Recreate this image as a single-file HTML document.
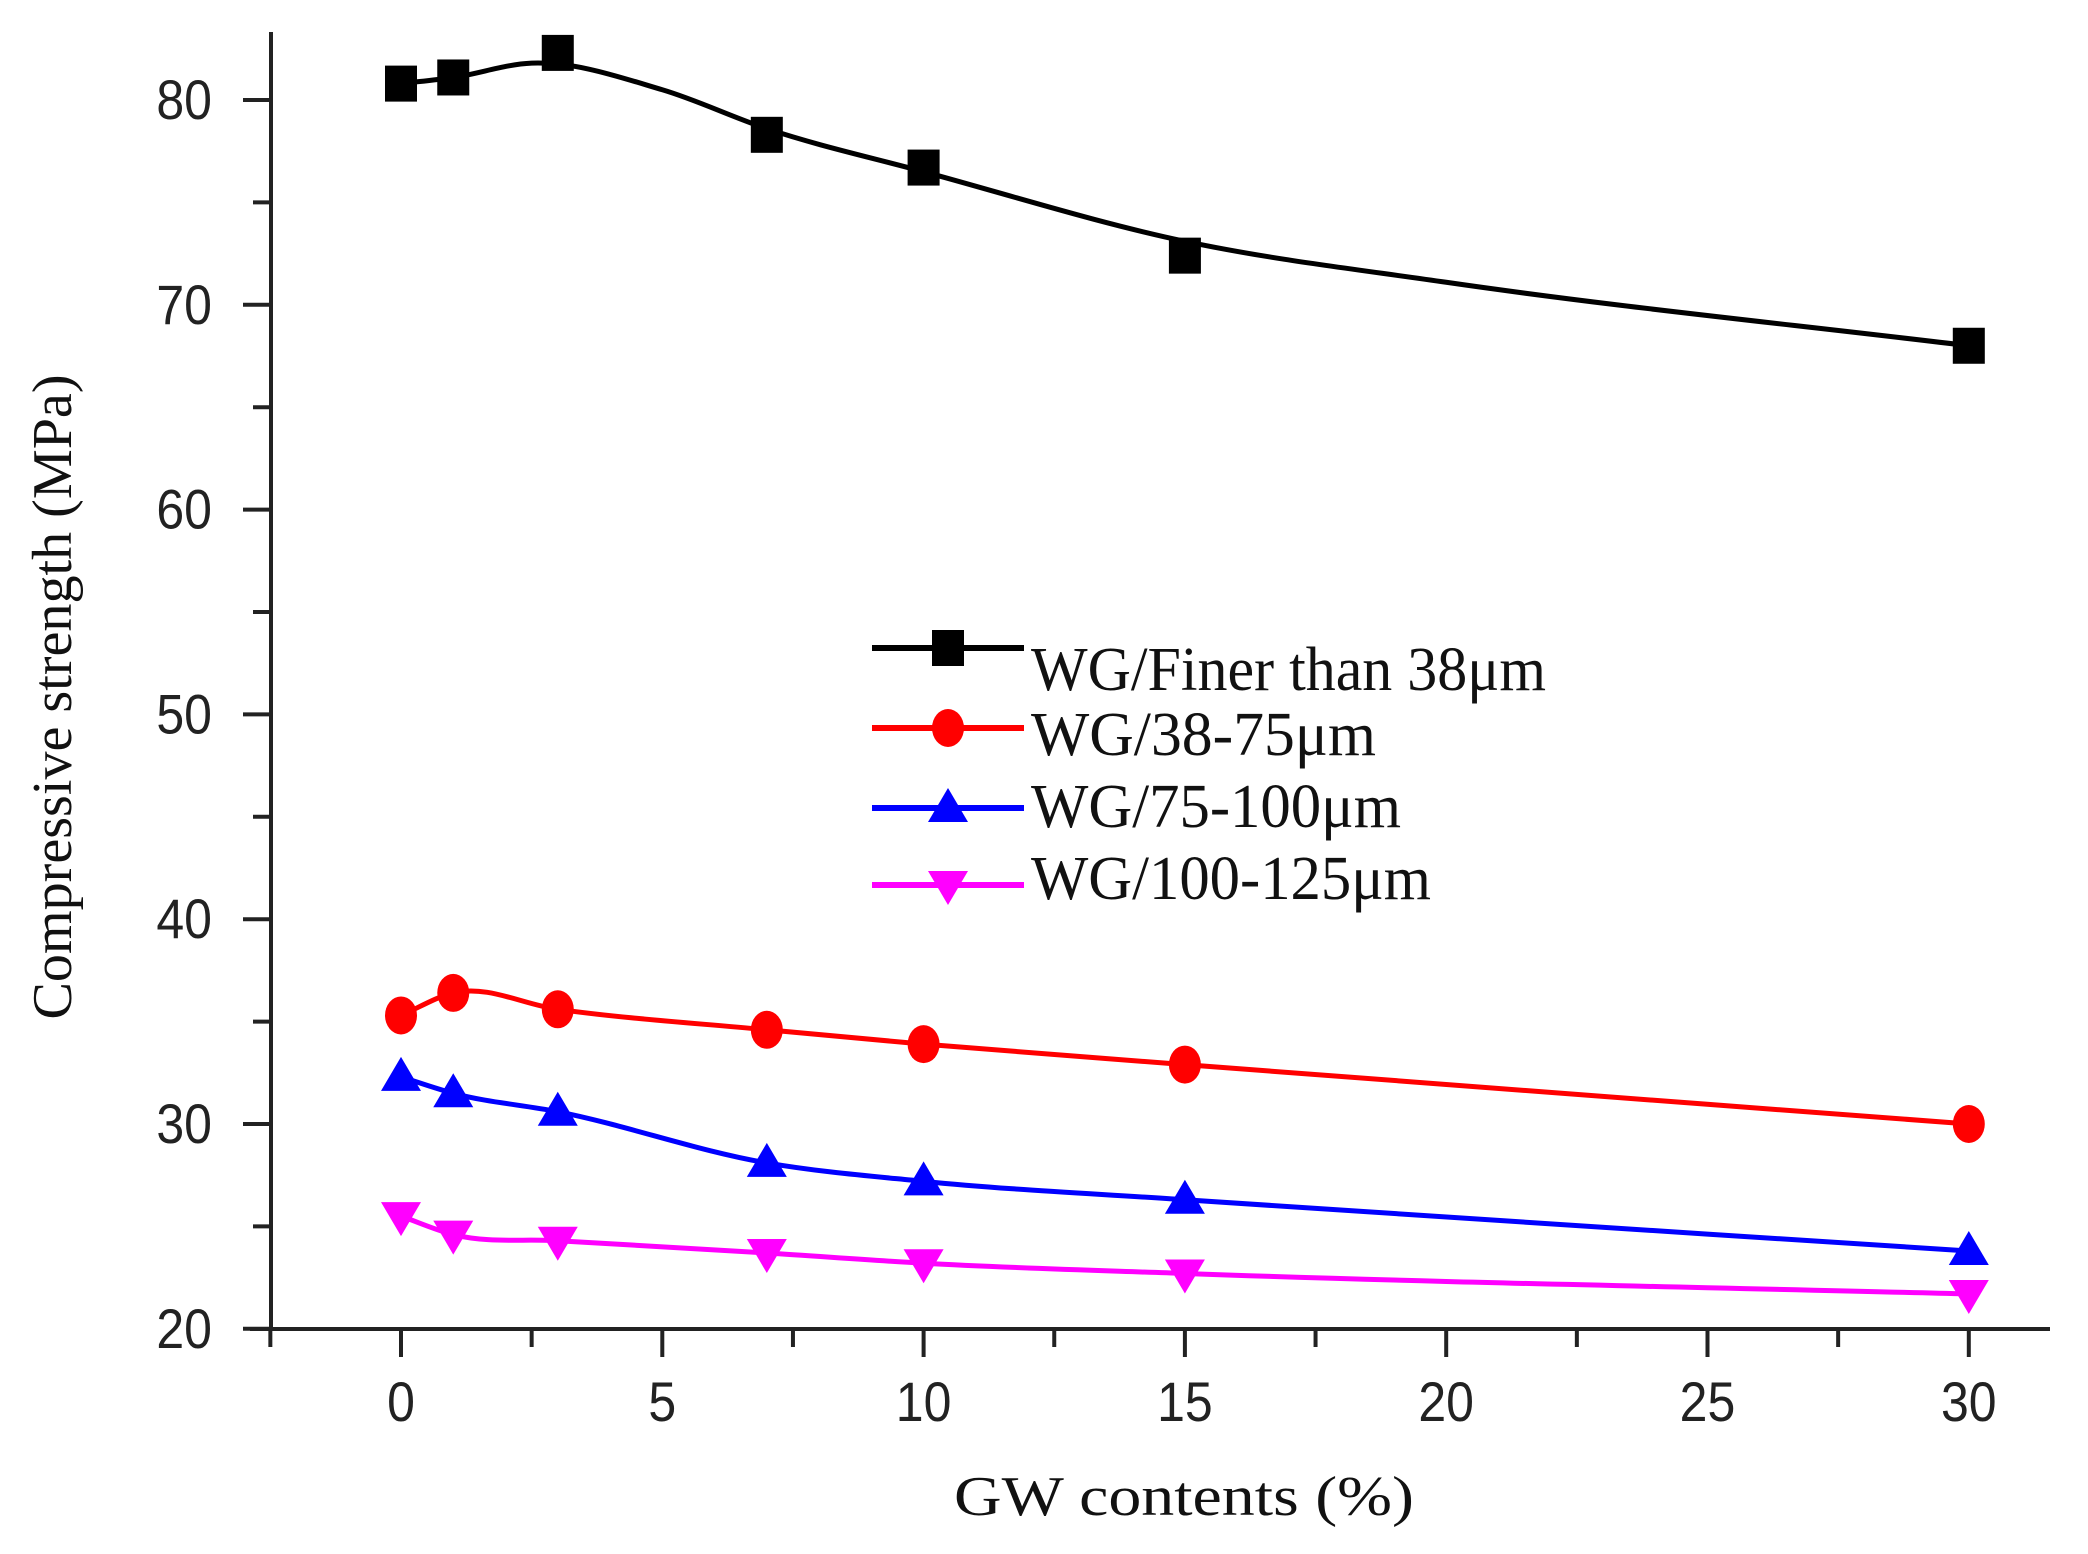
<!DOCTYPE html>
<html><head><meta charset="utf-8"><style>
html,body{margin:0;padding:0;background:#fff;width:2088px;height:1554px;overflow:hidden}
</style></head><body>
<svg id="s" width="2088" height="1554" viewBox="0 0 2088 1554" xmlns="http://www.w3.org/2000/svg">
<rect width="2088" height="1554" fill="#fff"/>
<g id="axes" stroke="#222" stroke-width="4" fill="none">
<line x1="271" y1="32" x2="271" y2="1329"/>
<line x1="250" y1="1329" x2="2050" y2="1329"/>
</g>
<g id="ticks" stroke="#222" stroke-width="4"></g>
<g id="labels" font-family="Liberation Sans, sans-serif" font-size="50" fill="#222"></g>
<g id="series"></g>
<text x="58" y="697" transform="rotate(-90 58 697)" text-anchor="middle" dominant-baseline="middle" font-family="Liberation Serif, serif" font-size="56" textLength="645" lengthAdjust="spacingAndGlyphs" fill="#111">Compressive strength (MPa)</text>
<text x="1184" y="1515" text-anchor="middle" font-family="Liberation Serif, serif" font-size="56" textLength="460" lengthAdjust="spacingAndGlyphs" fill="#111">GW contents (%)</text>
<g font-family="Liberation Serif, serif" font-size="62" fill="#111">
<text x="1031" y="690" textLength="515" lengthAdjust="spacingAndGlyphs">WG/Finer than 38μm</text>
<text x="1031" y="755" textLength="345" lengthAdjust="spacingAndGlyphs">WG/38-75μm</text>
<text x="1031" y="827" textLength="370" lengthAdjust="spacingAndGlyphs">WG/75-100μm</text>
<text x="1031" y="899" textLength="400" lengthAdjust="spacingAndGlyphs">WG/100-125μm</text>
</g>
<g id="legend"></g>
</svg>
<script>
var NS="http://www.w3.org/2000/svg";
function el(t,a,p){var e=document.createElementNS(NS,t);for(var k in a)e.setAttribute(k,a[k]);p.appendChild(e);return e;}
function X(v){return 401+v*52.26;}
function Y(v){return 100+(80-v)*20.48;}
var tk=document.getElementById('ticks'),lb=document.getElementById('labels');
for(var v=20;v<=80;v+=5){var maj=v%10==0;el('line',{x1:maj?243:253,x2:271,y1:Y(v),y2:Y(v)},tk);
 if(maj){var t=el('text',{x:212,y:(Y(v)+19)/1.12,'text-anchor':'end',transform:'scale(1,1.12)'},lb);t.textContent=v;}}
for(var v=-2.5;v<=32.5;v+=2.5){var maj=Math.abs(v%5)<1e-6;el('line',{x1:X(v),x2:X(v),y1:1329,y2:maj?1357:1347},tk);
 if(maj&&v>=0&&v<=30){var t=el('text',{x:X(v),y:1421/1.12,'text-anchor':'middle',transform:'scale(1,1.12)'},lb);t.textContent=v;}}
var xs=[0,1,3,7,10,15,30];
var S=[
 {c:'#000',m:'sq',d:[80.8,81.1,82.3,78.3,76.7,72.4,68.0],ly:648,
  kx:[0,1,2.5,5,7,10,15,20,30],kv:[80.8,81.1,81.8,80.5,78.6,76.5,73.1,71.1,68.0]},
 {c:'#ff0000',m:'ci',d:[35.3,36.4,35.6,34.6,33.9,32.9,30.0],ly:728},
 {c:'#0000ff',m:'up',d:[32.3,31.5,30.6,28.1,27.2,26.3,23.8],ly:808},
 {c:'#ff00ff',m:'dn',d:[25.5,24.6,24.3,23.7,23.2,22.7,21.7],ly:885}];
var sg=document.getElementById('series'),lg=document.getElementById('legend');
function marker(m,x,y,c,p){
 if(m=='sq')el('rect',{x:x-16,y:y-18,width:32,height:36,fill:c},p);
 else if(m=='ci')el('ellipse',{cx:x,cy:y,rx:16,ry:19,fill:c},p);
 else if(m=='up')el('polygon',{points:(x-20)+','+(y+14)+' '+(x+20)+','+(y+14)+' '+x+','+(y-20),fill:c},p);
 else el('polygon',{points:(x-20)+','+(y-14)+' '+(x+20)+','+(y-14)+' '+x+','+(y+20),fill:c},p);}
function spline(P){
 var n=P.length,sl=[];
 for(var i=0;i<n;i++){
  if(i==0)sl.push((P[1][1]-P[0][1])/(P[1][0]-P[0][0]));
  else if(i==n-1)sl.push((P[n-1][1]-P[n-2][1])/(P[n-1][0]-P[n-2][0]));
  else{var a=(P[i][1]-P[i-1][1])/(P[i][0]-P[i-1][0]),b=(P[i+1][1]-P[i][1])/(P[i+1][0]-P[i][0]);
   var w1=P[i+1][0]-P[i][0],w0=P[i][0]-P[i-1][0];
   sl.push((a*w1+b*w0)/(w0+w1));}}
 var d='M'+P[0][0]+','+P[0][1];
 for(var i=0;i<n-1;i++){var h=P[i+1][0]-P[i][0];
  d+=' C'+(P[i][0]+h/3)+','+(P[i][1]+sl[i]*h/3)+' '+(P[i+1][0]-h/3)+','+(P[i+1][1]-sl[i+1]*h/3)+' '+P[i+1][0]+','+P[i+1][1];}
 return d;}
S.forEach(function(s){
 var P=xs.map(function(x,i){return[X(x),Y(s.d[i])];});
 var K=s.kx?s.kx.map(function(x,i){return[X(x),Y(s.kv[i])];}):P;
 el('path',{d:spline(K),stroke:s.c,'stroke-width':5,fill:'none'},sg);
 P.forEach(function(p){marker(s.m,p[0],p[1],s.c,sg);});
 el('line',{x1:872,x2:1024,y1:s.ly,y2:s.ly,stroke:s.c,'stroke-width':6},lg);
 marker(s.m,948,s.ly,s.c,lg);
});
</script>
</body></html>
